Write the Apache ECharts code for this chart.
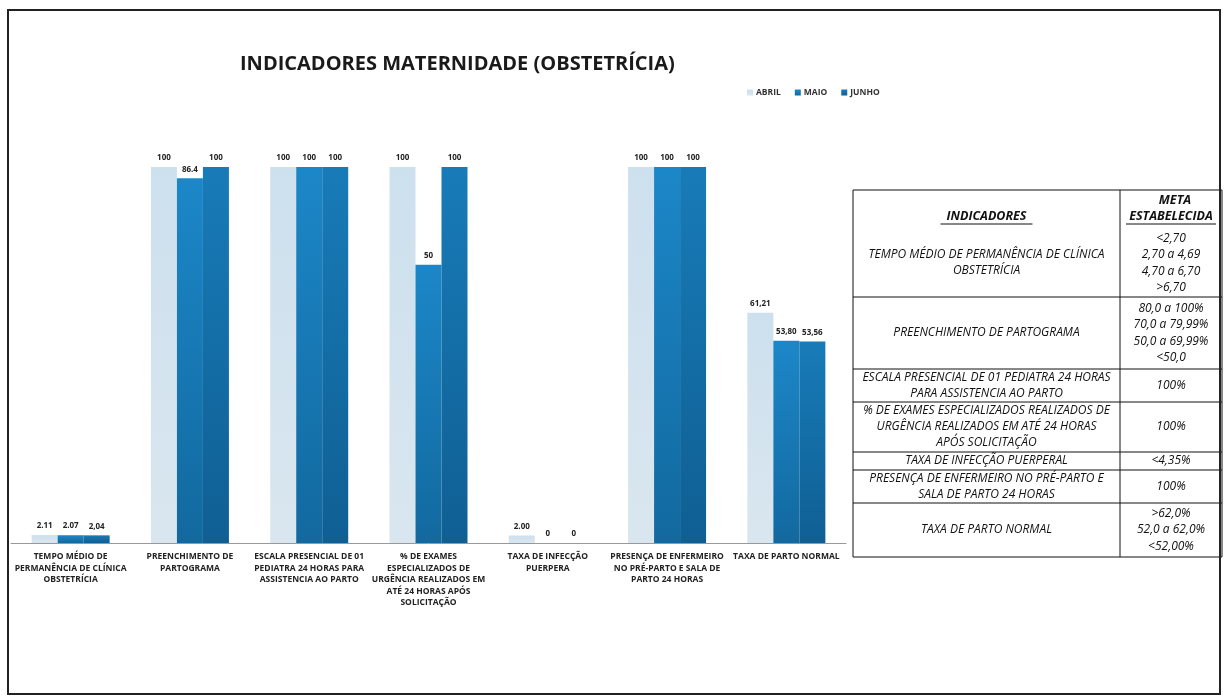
<!DOCTYPE html>
<html>
<head>
<meta charset="utf-8">
<script src="https://cdn.jsdelivr.net/npm/echarts@6/dist/echarts.min.js"></script>
<style>html,body{margin:0;padding:0;background:#fff;}#c{width:1226px;height:700px;}</style>
</head>
<body>
<div id="c"></div>
<script>
const categories = [
  "TEMPO MÉDIO DE\nPERMANÊNCIA DE CLÍNICA\nOBSTETRÍCIA",
  "PREENCHIMENTO DE\nPARTOGRAMA",
  "ESCALA PRESENCIAL DE 01\nPEDIATRA 24 HORAS PARA\nASSISTENCIA AO PARTO",
  "% DE EXAMES\nESPECIALIZADOS DE\nURGÊNCIA REALIZADOS EM\nATÉ 24 HORAS APÓS\nSOLICITAÇÃO",
  "TAXA DE INFECÇÃO\nPUERPERA",
  "PRESENÇA DE ENFERMEIRO\nNO PRÉ-PARTO E SALA DE\nPARTO 24 HORAS",
  "TAXA DE PARTO NORMAL"
];
const seriesNames = ["ABRIL", "MAIO", "JUNHO"];
const abril = [2.11, 100, 100, 100, 2.00, 100, 61.21];
const maio  = [2.07, 97, 100, 74, 0, 100, 53.80];
const junho = [2.04, 100, 100, 100, 0, 100, 53.56];
const abrilLabels = ["2.11", "100", "100", "100", "2.00", "100", "61,21"];
const maioLabels  = ["2.07", "86.4", "100", "50", "0", "100", "53,80"];
const junhoLabels = ["2,04", "100", "100", "100", "0", "100", "53,56"];

const tableHeader = ["INDICADORES", "META", "ESTABELECIDA"];
const tableRows = [
  { ind: ["TEMPO MÉDIO DE PERMANÊNCIA DE CLÍNICA", "OBSTETRÍCIA"], meta: ["<2,70", "2,70 a 4,69", "4,70 a 6,70", ">6,70"] },
  { ind: ["PREENCHIMENTO DE PARTOGRAMA"], meta: ["80,0 a 100%", "70,0 a 79,99%", "50,0 a 69,99%", "<50,0"] },
  { ind: ["ESCALA PRESENCIAL DE 01 PEDIATRA 24 HORAS", "PARA ASSISTENCIA AO PARTO"], meta: ["100%"] },
  { ind: ["% DE EXAMES ESPECIALIZADOS REALIZADOS DE", "URGÊNCIA REALIZADOS EM ATÉ 24 HORAS", "APÓS SOLICITAÇÃO"], meta: ["100%"] },
  { ind: ["TAXA DE INFECÇÃO PUERPERAL"], meta: ["<4,35%"] },
  { ind: ["PRESENÇA DE ENFERMEIRO NO PRÉ-PARTO E", "SALA DE PARTO 24 HORAS"], meta: ["100%"] },
  { ind: ["TAXA DE PARTO NORMAL"], meta: [">62,0%", "52,0 a 62,0%", "<52,00%"] }
];

const FONT = '"Open Sans", "Noto Sans", sans-serif';
const chart = echarts.init(document.getElementById('c'));

function grad(top, bottom) {
  return new echarts.graphic.LinearGradient(0, 0, 0, 1, [{offset: 0, color: top}, {offset: 1, color: bottom}]);
}
function mkSeries(name, data, labels, color) {
  return {
    name: name, type: 'bar', data: data, barWidth: 26, barGap: '0%',
    itemStyle: { color: color },
    label: {
      show: true, position: 'top', distance: 4,
      formatter: p => labels[p.dataIndex],
      fontFamily: FONT, fontSize: 8, fontWeight: 'bold', color: '#222',
      backgroundColor: '#fff', padding: [1, 2]
    }
  };
}

// Table graphics
const tX0 = 853, tX1 = 1120, tX2 = 1222;
const rowBounds = [190, 229, 297, 369, 402, 452, 470, 503, 557];
const g = [];
const tText = (txt, x, y, size, bold) => ({
  type: 'text', x: x, y: y,
  style: { text: txt, x: 0, y: 0, textAlign: 'center', textVerticalAlign: 'middle',
    font: (bold ? 'italic bold ' : 'italic ') + size + 'px ' + FONT, fill: '#111' }
});
g.push({ type: 'rect', shape: { x: tX0, y: rowBounds[0], width: tX2 - tX0, height: rowBounds[rowBounds.length - 1] - rowBounds[0] },
  style: { fill: 'none', stroke: '#111', lineWidth: 1 } });
g.push({ type: 'line', shape: { x1: tX1, y1: rowBounds[0], x2: tX1, y2: rowBounds[rowBounds.length - 1] }, style: { stroke: '#111', lineWidth: 1 } });
for (let i = 2; i < rowBounds.length - 1; i++) {
  g.push({ type: 'line', shape: { x1: tX0, y1: rowBounds[i], x2: tX2, y2: rowBounds[i] }, style: { stroke: '#111', lineWidth: 1 } });
}
const cL = (tX0 + tX1) / 2, cR = (tX1 + tX2) / 2;
g.push(tText(tableHeader[0], cL, 216, 12.5, true));
g.push({ type: 'line', shape: { x1: cL - 46, y1: 224, x2: cL + 46, y2: 224 }, style: { stroke: '#111', lineWidth: 1 } });
g.push(tText(tableHeader[1], cR + 4, 200, 12.5, true));
g.push(tText(tableHeader[2], cR, 216, 12.5, true));
g.push({ type: 'line', shape: { x1: cR - 45, y1: 224, x2: cR + 45, y2: 224 }, style: { stroke: '#111', lineWidth: 1 } });
tableRows.forEach((row, i) => {
  const top = rowBounds[i + 1], bot = rowBounds[i + 2];
  const mid = (top + bot) / 2;
  const lhI = 16, lhM = 16.5;
  row.ind.forEach((t, k) => g.push(tText(t, cL, mid + (k - (row.ind.length - 1) / 2) * lhI, 12, false)));
  row.meta.forEach((t, k) => g.push(tText(t, cR, mid + (k - (row.meta.length - 1) / 2) * lhM, 12, false)));
});
g.push({ type: 'rect', shape: { x: 8, y: 10, width: 1212, height: 684 }, style: { fill: 'none', stroke: '#222', lineWidth: 2 } });

chart.setOption({
  animation: false,
  backgroundColor: '#fff',
  title: {
    text: 'INDICADORES MATERNIDADE (OBSTETRÍCIA)', left: 235, top: 49,
    textStyle: { fontFamily: FONT, fontSize: 20, fontWeight: 'bold', color: '#1a1a1a' }
  },
  legend: {
    left: 742, top: 83, itemWidth: 6, itemHeight: 6, itemGap: 14, icon: 'rect',
    textStyle: { fontFamily: FONT, fontSize: 8.5, fontWeight: 'bold', color: '#333', padding: [0, 0, 0, -2] },
    data: seriesNames
  },
  grid: { left: 11, right: 380, top: 167, bottom: 157 },
  xAxis: {
    type: 'category', data: categories,
    axisLine: { lineStyle: { color: '#999', width: 1 } },
    axisTick: { show: false },
    axisLabel: { interval: 0, fontFamily: FONT, fontSize: 8.5, fontWeight: 'bold', color: '#222', lineHeight: 11.5, margin: 8 }
  },
  yAxis: { type: 'value', min: 0, max: 100, show: false, splitLine: { show: false } },
  series: [
    mkSeries(seriesNames[0], abril, abrilLabels, grad('#cde0ee', '#d9e6ef')),
    mkSeries(seriesNames[1], maio, maioLabels, grad('#1c87c8', '#12699f')),
    mkSeries(seriesNames[2], junho, junhoLabels, grad('#187bb8', '#0f5f93'))
  ],
  graphic: g
});
</script>
</body>
</html>
